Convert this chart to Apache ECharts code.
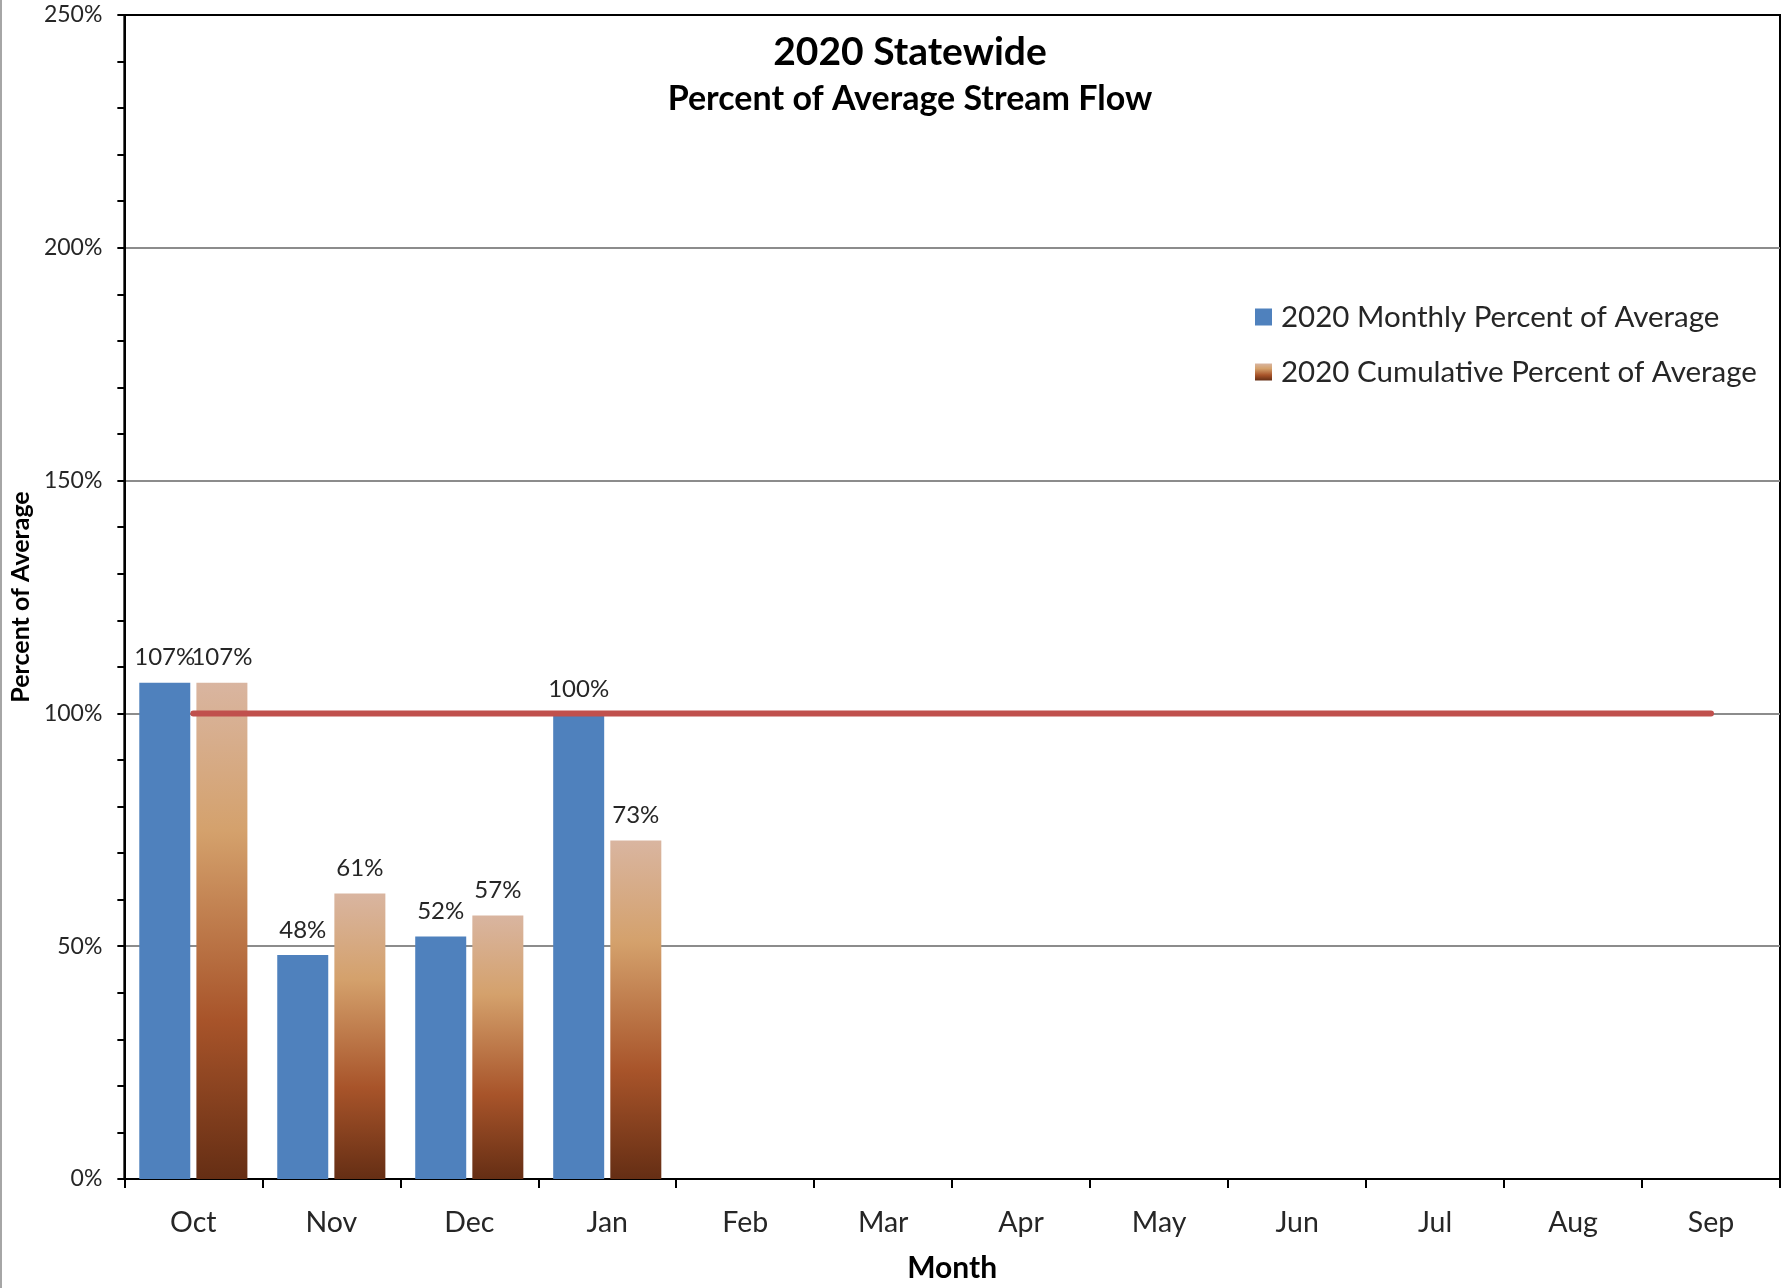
<!DOCTYPE html>
<html>
<head>
<meta charset="utf-8">
<title>2020 Statewide Percent of Average Stream Flow</title>
<script src="https://cdn.jsdelivr.net/npm/echarts@6/dist/echarts.min.js"></script>
<style>
  html, body { margin: 0; padding: 0; background: #ffffff; }
  #chart { width: 1792px; height: 1288px; }
</style>
</head>
<body>
<div id="chart"></div>
<script>
var months = ['Oct', 'Nov', 'Dec', 'Jan', 'Feb', 'Mar', 'Apr', 'May', 'Jun', 'Jul', 'Aug', 'Sep']
var monthly = [106.6, 48.1, 52.1, 99.8]
var cumulative = [106.6, 61.3, 56.6, 72.7]
var averageLine = [100, 100, 100, 100, 100, 100, 100, 100, 100, 100, 100, 100]
var yTicks = [0, 50, 100, 150, 200, 250]

var font = 'Lato, "Open Sans", sans-serif'
var textColor = '#262626'

var brownGradient = new echarts.graphic.LinearGradient(0, 0, 0, 1, [
  { offset: 0, color: '#D9B5A0' },
  { offset: 0.3, color: '#D4A16C' },
  { offset: 0.68, color: '#A8542A' },
  { offset: 1, color: '#652E14' }
])

var pct = function (p) { return Math.round(p.value) + '%' }

var myChart = echarts.init(document.getElementById('chart'))
myChart.setOption({
  animation: false,
  backgroundColor: '#ffffff',
  textStyle: { fontFamily: font },
  title: [{
    text: '2020 Statewide',
    left: 905,
    top: 28,
    textAlign: 'center',
    textStyle: { fontFamily: font, fontWeight: 'bold', fontSize: 39, color: '#000' }
  }, {
    text: 'Percent of Average Stream Flow',
    left: 905,
    top: 77,
    textAlign: 'center',
    textStyle: { fontFamily: font, fontWeight: 'bold', fontSize: 34, color: '#000' }
  }],
  legend: {
    data: ['2020 Monthly Percent of Average', '2020 Cumulative Percent of Average'],
    orient: 'vertical',
    left: 1250,
    top: 297,
    itemWidth: 17,
    itemHeight: 17,
    itemGap: 25,
    icon: 'rect',
    textStyle: { fontFamily: font, fontSize: 29.5, color: textColor, padding: [0, 0, 0, 4] }
  },
  grid: {
    left: 124,
    right: 12,
    top: 15,
    bottom: 103,
    show: true,
    borderColor: '#000',
    borderWidth: 2
  },
  xAxis: {
    type: 'category',
    data: months,
    boundaryGap: true,
    name: 'Month',
    nameLocation: 'middle',
    nameGap: 74,
    nameTextStyle: { fontFamily: font, fontWeight: 'bold', fontSize: 30, color: '#000' },
    axisLine: { lineStyle: { color: '#000', width: 2 } },
    axisTick: { show: true, alignWithLabel: false, length: 9, lineStyle: { color: '#000', width: 2 } },
    axisLabel: { margin: 29, fontSize: 28.5, color: textColor, fontFamily: font },
    splitLine: { show: false }
  },
  yAxis: {
    type: 'value',
    min: 0,
    max: 250,
    interval: 50,
    name: 'Percent of Average',
    nameLocation: 'middle',
    nameGap: 90,
    nameTextStyle: { fontFamily: font, fontWeight: 'bold', fontSize: 25, color: '#000' },
    axisLine: { show: true, lineStyle: { color: '#000', width: 2 } },
    axisTick: { show: true, length: 7, lineStyle: { color: '#000', width: 2 } },
    minorTick: { show: true, splitNumber: 5, length: 7, lineStyle: { color: '#000', width: 2 } },
    axisLabel: {
      margin: 22,
      fontSize: 23,
      color: textColor,
      fontFamily: font,
      formatter: function (v) { return yTicks.indexOf(v) >= 0 ? v + '%' : '' }
    },
    splitLine: { show: true, showMinLine: false, showMaxLine: false, lineStyle: { color: '#8C8C8C', width: 2 } }
  },
  series: [{
    name: '2020 Monthly Percent of Average',
    type: 'bar',
    data: monthly,
    barWidth: 51,
    barGap: '12%',
    itemStyle: { color: '#4F81BD' },
    label: { show: true, position: 'top', distance: 13, fontSize: 24, color: textColor, fontFamily: font, formatter: pct },
    z: 2
  }, {
    name: '2020 Cumulative Percent of Average',
    type: 'bar',
    data: cumulative,
    barWidth: 51,
    barGap: '12%',
    itemStyle: { color: brownGradient },
    label: { show: true, position: 'top', distance: 13, fontSize: 24, color: textColor, fontFamily: font, formatter: pct },
    z: 2
  }, {
    name: 'Average',
    type: 'line',
    data: averageLine,
    symbol: 'none',
    lineStyle: { color: '#C0504D', width: 6, cap: 'round' },
    z: 5
  }],
  graphic: [{
    type: 'line',
    shape: { x1: 1, y1: 0, x2: 1, y2: 1288 },
    style: { stroke: '#A6A6A6', lineWidth: 2 }
  }]
})
</script>
</body>
</html>
